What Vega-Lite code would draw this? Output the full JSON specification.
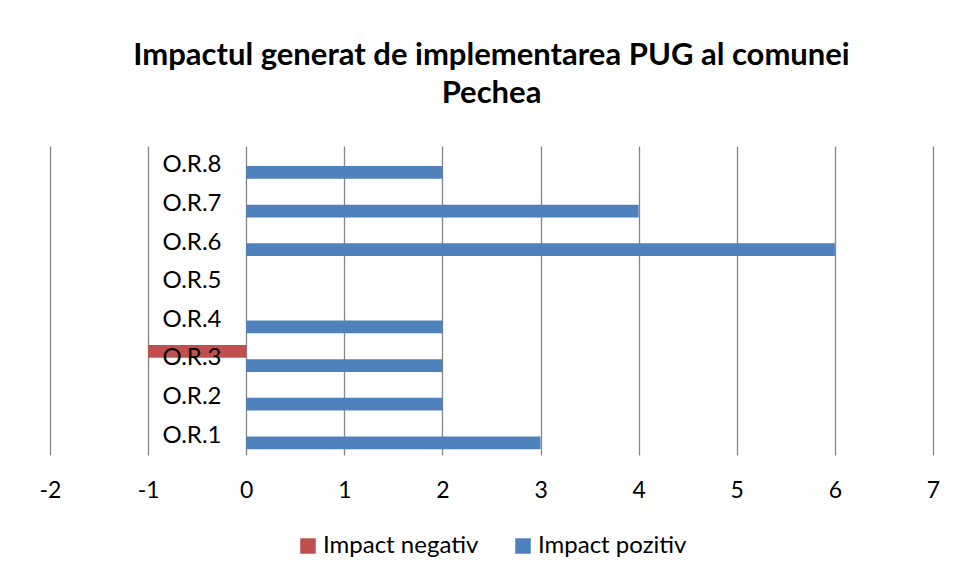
{
  "$schema": "https://vega.github.io/schema/vega-lite/v6.json",
  "width": 883,
  "height": 309,
  "autosize": {"type": "none"},
  "padding": {"left": 50, "top": 146, "right": 23, "bottom": 124},
  "background": "white",
  "title": {
    "text": ["Impactul generat de implementarea PUG al comunei", "Pechea"],
    "font": "Lato",
    "fontSize": 31,
    "fontWeight": "bold",
    "color": "black",
    "lineHeight": 38,
    "anchor": "middle",
    "offset": 36
  },
  "data": {
    "values": [
      {"cat": "O.R.1", "series": "Impact pozitiv", "value": 3},
      {"cat": "O.R.2", "series": "Impact pozitiv", "value": 2},
      {"cat": "O.R.3", "series": "Impact negativ", "value": -1},
      {"cat": "O.R.3", "series": "Impact pozitiv", "value": 2},
      {"cat": "O.R.4", "series": "Impact pozitiv", "value": 2},
      {"cat": "O.R.5", "series": "Impact pozitiv", "value": 0},
      {"cat": "O.R.6", "series": "Impact pozitiv", "value": 6},
      {"cat": "O.R.7", "series": "Impact pozitiv", "value": 4},
      {"cat": "O.R.8", "series": "Impact pozitiv", "value": 2}
    ]
  },
  "mark": {"type": "bar"},
  "encoding": {
    "y": {
      "field": "cat",
      "type": "nominal",
      "sort": ["O.R.8", "O.R.7", "O.R.6", "O.R.5", "O.R.4", "O.R.3", "O.R.2", "O.R.1"],
      "scale": {"paddingInner": 0.3, "paddingOuter": 0.15},
      "axis": {
        "title": null,
        "orient": "left",
        "offset": -196,
        "domain": false,
        "ticks": false,
        "labelPadding": 25,
        "labelFont": "Lato",
        "labelFontSize": 24,
        "labelColor": "black",
        "zindex": 2
      }
    },
    "yOffset": {
      "field": "series",
      "type": "nominal",
      "scale": {"domain": ["Impact negativ", "Impact pozitiv"], "paddingInner": 0.1}
    },
    "x": {
      "field": "value",
      "type": "quantitative",
      "scale": {"domain": [-2, 7], "nice": false},
      "axis": {
        "title": null,
        "values": [-2, -1, 0, 1, 2, 3, 4, 5, 6, 7],
        "labelExpr": "datum.value + ''",
        "domain": false,
        "ticks": false,
        "grid": true,
        "gridColor": "#868686",
        "gridWidth": 1.3,
        "gridOpacity": 1,
        "labelPadding": 35,
        "labelBaseline": "middle",
        "labelFont": "Lato",
        "labelFontSize": 23,
        "labelColor": "black",
        "labelFlush": false
      }
    },
    "color": {
      "field": "series",
      "type": "nominal",
      "scale": {"domain": ["Impact negativ", "Impact pozitiv"], "range": ["#C0504D", "#4F81BD"]},
      "legend": {
        "title": null,
        "orient": "none",
        "direction": "horizontal",
        "legendX": 246,
        "legendY": 388,
        "symbolType": "square",
        "symbolSize": 240,
        "symbolStrokeWidth": 0,
        "symbolOpacity": 1,
        "labelFont": "Lato",
        "labelFontSize": 24,
        "labelColor": "black",
        "labelOffset": 3,
        "columnPadding": 32
      }
    }
  },
  "config": {
    "view": {"stroke": null}
  }
}
